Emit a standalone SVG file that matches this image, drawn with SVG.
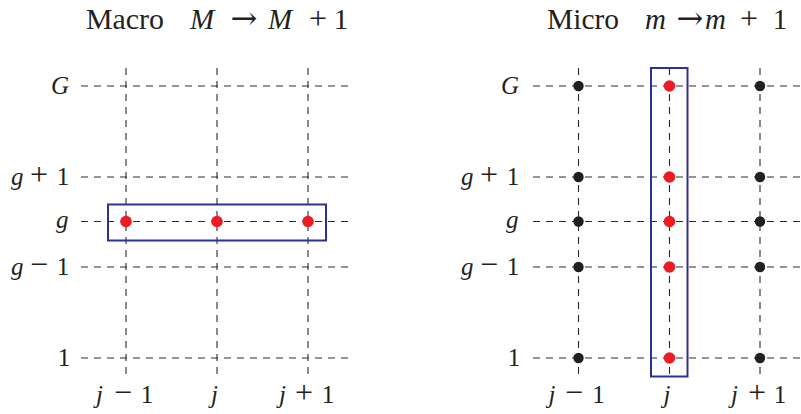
<svg xmlns="http://www.w3.org/2000/svg" width="801" height="414" viewBox="0 0 801 414">
<style>
.grid line{stroke:#2b2b2b;stroke-width:1.1;stroke-dasharray:7 6;fill:none}
.t{font-family:"Liberation Serif","Times New Roman",serif;fill:#231f20}
.title{font-size:29px}
.lab{font-size:25px}
.i{font-style:italic}
.op{font-size:32px}
.top{font-size:32px}
.arr{font-family:"DejaVu Serif",serif;font-size:32px}
.red{fill:#ed1c24}
.blk{fill:#231f20}
.box{fill:none;stroke:#2e3192;stroke-width:2}
</style>
<rect width="801" height="414" fill="#fff"/>
<g id="connectors" class="grid">
<line x1="81" y1="86" x2="353" y2="86"/>
<line x1="81" y1="177" x2="353" y2="177"/>
<line x1="81" y1="221.5" x2="353" y2="221.5"/>
<line x1="81" y1="267" x2="353" y2="267"/>
<line x1="81" y1="358" x2="353" y2="358"/>
<line x1="126" y1="68" x2="126" y2="377"/>
<line x1="217" y1="68" x2="217" y2="377"/>
<line x1="308" y1="68" x2="308" y2="377"/>
<line x1="533" y1="86" x2="801" y2="86"/>
<line x1="533" y1="177" x2="801" y2="177"/>
<line x1="533" y1="221.5" x2="801" y2="221.5"/>
<line x1="533" y1="267" x2="801" y2="267"/>
<line x1="533" y1="358" x2="801" y2="358"/>
<line x1="578.5" y1="68" x2="578.5" y2="377"/>
<line x1="669.5" y1="68" x2="669.5" y2="377"/>
<line x1="760" y1="68" x2="760" y2="377"/>
</g>
<g id="title-macro" class="t title">
<text x="86" y="29" textLength="78" lengthAdjust="spacingAndGlyphs">Macro</text>
<text x="190" y="29" class="i">M</text>
<text x="244" y="29" class="arr" text-anchor="middle">→</text>
<text x="268" y="29" class="i">M</text>
<text x="318" y="29" class="top" text-anchor="middle">+</text>
<text x="341" y="29" text-anchor="middle">1</text>
</g>
<g id="title-micro" class="t title">
<text x="547" y="29" textLength="72" lengthAdjust="spacingAndGlyphs">Micro</text>
<text x="645" y="29" class="i">m</text>
<text x="690" y="29" class="arr" text-anchor="middle">→</text>
<text x="705" y="29" class="i">m</text>
<text x="749" y="29" class="top" text-anchor="middle">+</text>
<text x="780" y="29" text-anchor="middle">1</text>
</g>
<g id="labels-left" class="t lab">
<text x="51" y="94" class="i">G</text>
<text y="185"><tspan x="11" class="i">g</tspan><tspan x="39" class="op" text-anchor="middle">+</tspan><tspan x="63" text-anchor="middle">1</tspan></text>
<text x="56" y="228" class="i">g</text>
<text y="275"><tspan x="11" class="i">g</tspan><tspan x="39" class="op" text-anchor="middle">−</tspan><tspan x="63" text-anchor="middle">1</tspan></text>
<text x="64" y="366" text-anchor="middle">1</text>
</g>
<g id="labels-right" class="t lab">
<text x="501" y="94" class="i">G</text>
<text y="185"><tspan x="461" class="i">g</tspan><tspan x="489" class="op" text-anchor="middle">+</tspan><tspan x="513" text-anchor="middle">1</tspan></text>
<text x="506" y="228" class="i">g</text>
<text y="275"><tspan x="461" class="i">g</tspan><tspan x="489" class="op" text-anchor="middle">−</tspan><tspan x="513" text-anchor="middle">1</tspan></text>
<text x="514" y="366" text-anchor="middle">1</text>
</g>
<g id="labels-bottom-left" class="t lab">
<text y="403"><tspan x="96" class="i">j</tspan><tspan x="123" class="op" text-anchor="middle">−</tspan><tspan x="147" text-anchor="middle">1</tspan></text>
<text x="211" y="403" class="i">j</text>
<text y="403"><tspan x="279" class="i">j</tspan><tspan x="304" class="op" text-anchor="middle">+</tspan><tspan x="328" text-anchor="middle">1</tspan></text>
</g>
<g id="labels-bottom-right" class="t lab">
<text y="403"><tspan x="548.5" class="i">j</tspan><tspan x="574" class="op" text-anchor="middle">−</tspan><tspan x="598.5" text-anchor="middle">1</tspan></text>
<text x="663.5" y="403" class="i">j</text>
<text y="403"><tspan x="731" class="i">j</tspan><tspan x="757" class="op" text-anchor="middle">+</tspan><tspan x="780" text-anchor="middle">1</tspan></text>
</g>
<g id="macro-box">
<rect class="box" x="108" y="204.5" width="218" height="36"/>
</g>
<g id="macro-dots" class="red">
<circle id="n-macro-jm1" cx="126" cy="221.5" r="5.8"/>
<circle id="n-macro-j" cx="217" cy="221.5" r="5.8"/>
<circle id="n-macro-jp1" cx="308" cy="221.5" r="5.8"/>
</g>
<g id="micro-box">
<rect class="box" x="651" y="68" width="36.5" height="308.5"/>
</g>
<g id="micro-dots-black" class="blk">
<circle cx="578.5" cy="86" r="5.2"/>
<circle cx="578.5" cy="177" r="5.2"/>
<circle cx="578.5" cy="221.5" r="5.2"/>
<circle cx="578.5" cy="267" r="5.2"/>
<circle cx="578.5" cy="358" r="5.2"/>
<circle cx="760" cy="86" r="5.2"/>
<circle cx="760" cy="177" r="5.2"/>
<circle cx="760" cy="221.5" r="5.2"/>
<circle cx="760" cy="267" r="5.2"/>
<circle cx="760" cy="358" r="5.2"/>
</g>
<g id="micro-dots-red" class="red">
<circle cx="669.5" cy="86" r="5.8"/>
<circle cx="669.5" cy="177" r="5.8"/>
<circle cx="669.5" cy="221.5" r="5.8"/>
<circle cx="669.5" cy="267" r="5.8"/>
<circle cx="669.5" cy="358" r="5.8"/>
</g>
</svg>
